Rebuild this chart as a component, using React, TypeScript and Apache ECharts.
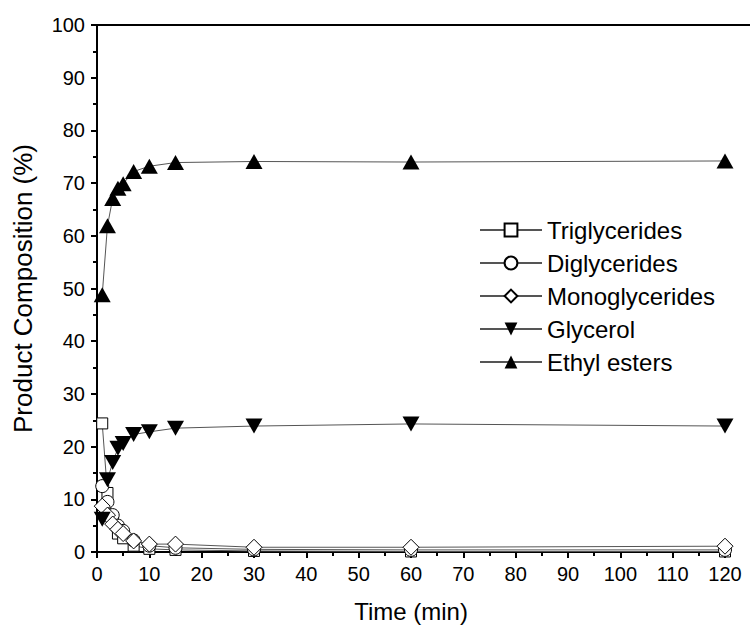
import React, { useEffect, useRef } from "react";
import * as echarts from "echarts";

const times = [1, 2, 3, 4, 5, 7, 10, 15, 30, 60, 120];
const triglycerides = [24.4, 11.2, 6.0, 3.5, 2.6, 1.2, 0.6, 0.4, 0.2, 0.1, 0.1];
const diglycerides = [12.5, 9.5, 7.0, 5.0, 4.0, 2.2, 1.2, 0.8, 0.5, 0.4, 0.4];
const monoglycerides = [8.7, 7.0, 5.3, 4.3, 3.5, 2.1, 1.5, 1.5, 0.9, 0.9, 1.1];
const glycerol = [6.2, 13.7, 17.0, 19.7, 20.6, 22.3, 22.8, 23.5, 23.9, 24.3, 23.9];
const ethylEsters = [48.8, 61.9, 67.1, 69.0, 69.9, 72.2, 73.2, 73.9, 74.1, 74.0, 74.2];

const FONT = "Liberation Sans, Arial, sans-serif";

function pairs(vals: number[]) {
  return times.map((t, i) => [t, vals[i]]);
}

export default function App() {
  const ref = useRef<HTMLDivElement>(null);
  useEffect(() => {
    if (!ref.current) return;
    const chart = echarts.init(ref.current, undefined, { renderer: "svg" });
    const lineStyle = { color: "#555", width: 1 };
    const openItem = { color: "#fff", borderColor: "#000", borderWidth: 1 };
    const filledItem = { color: "#000", borderColor: "#000", borderWidth: 0 };
    const mk = (name: string, vals: number[], symbol: string, size: number | number[], item: any) => ({
      name,
      type: "line",
      data: pairs(vals),
      symbol,
      symbolSize: size,
      showAllSymbol: true,
      lineStyle,
      itemStyle: item,
      emphasis: { disabled: true },
      z: 2,
    });
    chart.setOption({
      animation: false,
      backgroundColor: "#fff",
      grid: { left: 97, top: 25, right: 25, bottom: 81, containLabel: false },
      legend: {
        orient: "vertical",
        left: 474,
        top: 213,
        itemWidth: 62,
        itemHeight: 16,
        itemGap: 9,
        textStyle: { fontFamily: FONT, fontSize: 24, color: "#000" },
        data: ["Triglycerides", "Diglycerides", "Monoglycerides", "Glycerol", "Ethyl esters"],
      },
      xAxis: {
        type: "value",
        min: 0,
        max: 120,
        interval: 10,
        name: "Time (min)",
        nameLocation: "middle",
        nameGap: 47,
        nameTextStyle: { fontFamily: FONT, fontSize: 24, color: "#000" },
        axisLine: { onZero: false, lineStyle: { color: "#000", width: 2 } },
        axisTick: { show: true, length: 6, lineStyle: { color: "#000", width: 2 } },
        minorTick: { show: true, splitNumber: 2, length: 4, lineStyle: { color: "#000", width: 2 } },
        axisLabel: { fontFamily: FONT, fontSize: 20, color: "#000", margin: 12 },
        splitLine: { show: false },
      },
      yAxis: {
        type: "value",
        min: 0,
        max: 100,
        interval: 10,
        name: "Product Composition (%)",
        nameLocation: "middle",
        nameGap: 61,
        nameRotate: 90,
        nameTextStyle: { fontFamily: FONT, fontSize: 26, color: "#000" },
        axisLine: { onZero: false, lineStyle: { color: "#000", width: 2 } },
        axisTick: { show: true, length: 6, lineStyle: { color: "#000", width: 2 } },
        minorTick: { show: true, splitNumber: 2, length: 4, lineStyle: { color: "#000", width: 2 } },
        axisLabel: { fontFamily: FONT, fontSize: 20, color: "#000", margin: 12 },
        splitLine: { show: false },
      },
      graphic: [
        {
          type: "line",
          shape: { x1: 96, y1: 25, x2: 750, y2: 25 },
          style: { stroke: "#000", lineWidth: 2 },
          z: 10,
        },
      ],
      series: [
        mk("Triglycerides", triglycerides, "rect", 11, openItem),
        mk("Diglycerides", diglycerides, "circle", 13, openItem),
        mk("Monoglycerides", monoglycerides, "diamond", 16, openItem),
        mk("Glycerol", glycerol, "path://M0,0 L10,0 L5,9 Z", [17, 15], filledItem),
        mk("Ethyl esters", ethylEsters, "triangle", [17, 15], filledItem),
      ],
    });
    return () => chart.dispose();
  }, []);
  return (
    <div
      ref={ref}
      style={{ position: "fixed", left: 0, top: 0, width: 750, height: 633, background: "#fff" }}
    />
  );
}
